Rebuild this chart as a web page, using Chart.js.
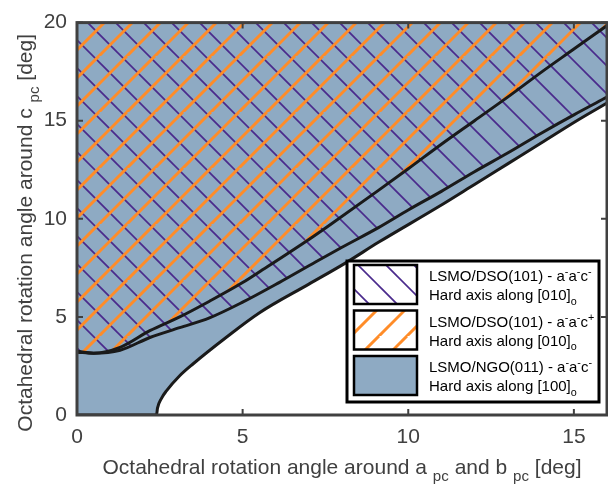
<!DOCTYPE html>
<html>
<head>
<meta charset="utf-8">
<script src="https://cdn.jsdelivr.net/npm/chart.js@4.4.1/dist/chart.umd.min.js"></script>
<style>
  html, body { margin: 0; padding: 0; background: #fff; }
  #wrap { width: 608px; height: 490px; position: relative; }
</style>
</head>
<body>
<div id="wrap"><canvas id="chart" width="608" height="490"></canvas></div>
<script>
// --- DATA -------------------------------------------------------------------------------------------
// Boundary above which LSMO/DSO(101) a-a-c+ (orange hatch) applies
const upperX = [0, 0.5, 1.3, 2.2, 3.1, 4.0, 5.0, 5.6, 7.0, 7.6, 9.1, 10, 11, 12, 13, 14, 15, 16]
const upperY = [3.2, 3.15, 3.45, 4.3, 5.0, 5.8, 6.75, 7.4, 8.95, 9.65, 11.45, 12.55, 13.8, 15.0, 16.2, 17.45, 18.65, 19.85]

// Boundary above which LSMO/DSO(101) a-a-c- (purple hatch) applies
const middleX = [0, 0.5, 1.3, 2.2, 3.1, 4, 5, 6.1, 7.2, 8, 9.1, 10, 11, 12, 13, 14, 15, 16]
const middleY = [3.25, 3.15, 3.3, 3.95, 4.45, 4.95, 5.75, 6.75, 7.8, 8.55, 9.55, 10.45, 11.4, 12.4, 13.35, 14.35, 15.3, 16.2]

// Boundary above which LSMO/NGO(011) (blue) applies
const lowerX = [0, 2.4, 2.43, 2.55, 2.7, 3.1, 3.5, 4.5, 5.5, 7.0, 8.1, 9.1, 10.9, 12, 13, 14, 15.15, 16]
const lowerY = [0, 0, 0.35, 0.85, 1.23, 2.0, 2.6, 3.95, 5.2, 6.67, 7.74, 8.8, 10.6, 11.75, 12.8, 13.85, 15.06, 15.9]

const xTicks = [0, 5, 10, 15]
const yTicks = [0, 5, 10, 15, 20]

// --- Colours / fonts --------------------------------------------------------------------------------
const BLUE = '#8eaac3'
const PURPLE = '#4a2a8c'
const ORANGE = '#ff8c28'
const FRAME = '#404040'
const FONT = '"Liberation Sans", Arial, sans-serif'

// --- Helpers ----------------------------------------------------------------------------------------
function toPoints(xs, ys) {
    return xs.map((x, i) => ({ x: x, y: ys[i] }))
}

// Diagonal hatch pattern built from layers, dir > 0 gives "/" lines, dir < 0 gives "\" lines
// Tile holds two periods so the seams stay clean
function makeHatch(layers) {
    const step = 28
    const s = step * 2
    const c = document.createElement('canvas')
    c.width = s
    c.height = s
    const g = c.getContext('2d')
    layers.forEach(l => {
        g.strokeStyle = l.color
        g.lineWidth = l.width
        for (let k = -3; k <= 3; k++) {
            const o = k * step + l.offset
            g.beginPath()
            if (l.dir > 0) {
                g.moveTo(o - s, 2 * s)
                g.lineTo(o + s, 0)
            } else {
                g.moveTo(o - s, -s)
                g.lineTo(o + 2 * s, 2 * s)
            }
            g.stroke()
        }
    })
    return g.createPattern(c, 'repeat')
}

const purpleLayer = { color: PURPLE, width: 1.7, dir: -1, offset: 9 }
const orangeLayer = { color: ORANGE, width: 3, dir: 1, offset: 15 }
const purpleHatch = makeHatch([purpleLayer])
const orangeHatch = makeHatch([orangeLayer])
const crossHatch = makeHatch([purpleLayer, orangeLayer])

// Draws text made of normal / sub / sup pieces, starting at x (left) on baseline y
function richWidth(ctx, parts, size) {
    let w = 0
    parts.forEach(p => {
        ctx.font = `${p.sub || p.sup ? size * 0.72 : size}px ${FONT}`
        w += ctx.measureText(p.t).width
    })
    return w
}

function drawRich(ctx, parts, x, y, size) {
    ctx.textAlign = 'left'
    ctx.textBaseline = 'alphabetic'
    parts.forEach(p => {
        const small = p.sub || p.sup
        ctx.font = `${small ? size * 0.72 : size}px ${FONT}`
        let dy = 0
        if (p.sub) dy = size * 0.33
        if (p.sup) dy = -size * 0.38
        ctx.fillText(p.t, x, y + dy)
        x += ctx.measureText(p.t).width
    })
}

// --- Plugin: frame, inward ticks, axis titles, legend -----------------------------------------------
const decorPlugin = {
    id: 'decor',
    afterDatasetsDraw(chart) {
        const ctx = chart.ctx
        const a = chart.chartArea
        const xs = chart.scales.x
        const ys = chart.scales.y
        ctx.save()
        ctx.strokeStyle = FRAME
        ctx.lineWidth = 2
        const tl = 6
        xTicks.forEach(v => {
            const px = xs.getPixelForValue(v)
            ctx.beginPath()
            ctx.moveTo(px, a.bottom)
            ctx.lineTo(px, a.bottom - tl)
            ctx.moveTo(px, a.top)
            ctx.lineTo(px, a.top + tl)
            ctx.stroke()
        })
        yTicks.forEach(v => {
            const py = ys.getPixelForValue(v)
            ctx.beginPath()
            ctx.moveTo(a.left, py)
            ctx.lineTo(a.left + tl, py)
            ctx.moveTo(a.right, py)
            ctx.lineTo(a.right - tl, py)
            ctx.stroke()
        })
        ctx.lineWidth = 3
        ctx.strokeRect(a.left, a.top, a.right - a.left, a.bottom - a.top)
        ctx.restore()
    },
    afterDraw(chart) {
        const ctx = chart.ctx
        const a = chart.chartArea
        ctx.save()
        ctx.fillStyle = FRAME

        // x axis title
        const xParts = [
            { t: 'Octahedral rotation angle around a ' },
            { t: 'pc', sub: true },
            { t: ' and b ' },
            { t: 'pc', sub: true },
            { t: ' [deg]' }
        ]
        const size = 21
        const xw = richWidth(ctx, xParts, size)
        drawRich(ctx, xParts, (a.left + a.right) / 2 - xw / 2, 474, size)

        // y axis title (rotated)
        const yParts = [
            { t: 'Octahedral rotation angle around c ' },
            { t: 'pc', sub: true },
            { t: ' [deg]' }
        ]
        const yw = richWidth(ctx, yParts, size)
        ctx.translate(32, (a.top + a.bottom) / 2 + 14)
        ctx.rotate(-Math.PI / 2)
        drawRich(ctx, yParts, -yw / 2, 0, size)
        ctx.restore()

        // legend
        ctx.save()
        ctx.fillStyle = '#fff'
        ctx.fillRect(347, 261, 252, 141)
        ctx.strokeStyle = '#000'
        ctx.lineWidth = 3
        ctx.strokeRect(347, 261, 252, 141)

        const entries = [
            { fill: purpleHatch, bg: '#fff', top: 265, sup: ['-', '-', '-'], name: 'LSMO/DSO(101) - ', axis: '[010]' },
            { fill: orangeHatch, bg: '#fff', top: 310.5, sup: ['-', '-', '+'], name: 'LSMO/DSO(101) - ', axis: '[010]' },
            { fill: BLUE, bg: BLUE, top: 356, sup: ['-', '-', '-'], name: 'LSMO/NGO(011) - ', axis: '[100]' }
        ]
        entries.forEach(e => {
            ctx.fillStyle = e.bg
            ctx.fillRect(354, e.top, 63, 39)
            ctx.fillStyle = e.fill
            ctx.fillRect(354, e.top, 63, 39)
            ctx.strokeStyle = '#000'
            ctx.lineWidth = 2.5
            ctx.strokeRect(354, e.top, 63, 39)

            ctx.fillStyle = '#000'
            const ls = 15
            drawRich(ctx, [
                { t: e.name + 'a' }, { t: e.sup[0], sup: true },
                { t: 'a' }, { t: e.sup[1], sup: true },
                { t: 'c' }, { t: e.sup[2], sup: true }
            ], 429, e.top + 16, ls)
            drawRich(ctx, [
                { t: 'Hard axis along ' + e.axis }, { t: 'o', sub: true }
            ], 429, e.top + 35, ls)
        })
        ctx.restore()
    }
}

// --- Chart ------------------------------------------------------------------------------------------
const lineStyle = {
    showLine: true,
    borderColor: '#1a1a1a',
    borderWidth: 3,
    pointRadius: 0,
    cubicInterpolationMode: 'monotone'
}

// Above the upper curve both hatches overlap (orange on top); purple alone fills
// the band between middle and upper curve, so the paint order does not matter
new Chart(document.getElementById('chart'), {
    type: 'scatter',
    data: {
        datasets: [
            Object.assign({ label: 'a-a-c+', data: toPoints(upperX, upperY), fill: 'end', backgroundColor: crossHatch }, lineStyle),
            Object.assign({ label: 'a-a-c-', data: toPoints(middleX, middleY), fill: '-1', backgroundColor: purpleHatch }, lineStyle),
            Object.assign({ label: 'NGO', data: toPoints(lowerX, lowerY), fill: 'end', backgroundColor: BLUE }, lineStyle)
        ]
    },
    options: {
        responsive: false,
        animation: false,
        events: [],
        layout: { padding: { top: 10, right: 1, left: 0, bottom: 0 } },
        plugins: {
            legend: { display: false },
            tooltip: { enabled: false },
            filler: { drawTime: 'beforeDatasetsDraw' }
        },
        scales: {
            x: {
                type: 'linear',
                min: 0,
                max: 16,
                afterBuildTicks: s => { s.ticks = xTicks.map(v => ({ value: v })) },
                afterFit: s => { s.height = 75 },
                grid: { display: false, drawTicks: false },
                border: { display: false },
                ticks: { padding: 10, color: FRAME, font: { family: FONT, size: 21 }, maxRotation: 0 }
            },
            y: {
                type: 'linear',
                min: 0,
                max: 20,
                afterBuildTicks: s => { s.ticks = yTicks.map(v => ({ value: v })) },
                afterFit: s => { s.width = 77 },
                grid: { display: false, drawTicks: false },
                border: { display: false },
                ticks: { padding: 10, color: FRAME, font: { family: FONT, size: 21 } }
            }
        }
    },
    plugins: [decorPlugin]
})
</script>
</body>
</html>
